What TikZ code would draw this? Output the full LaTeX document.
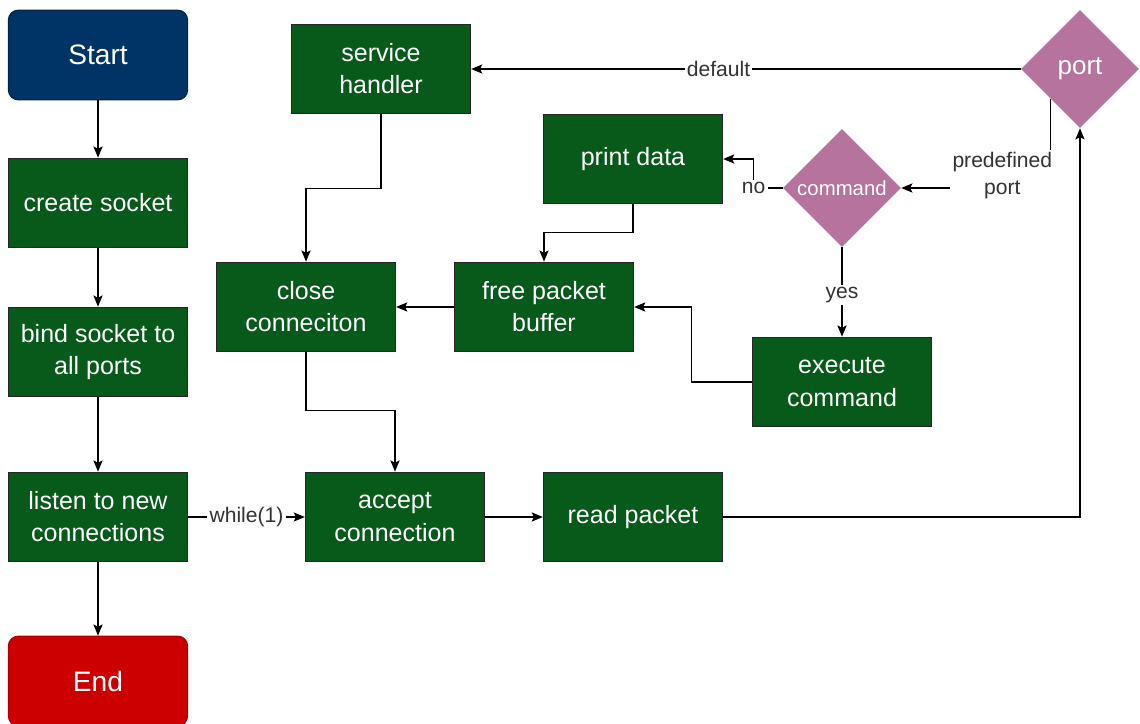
\documentclass[tikz,border=0pt]{standalone}
\usepackage{fontspec}
\setmainfont{Liberation Sans}
\usetikzlibrary{arrows.meta,positioning,shapes.geometric}

\definecolor{stepgreen}{RGB}{7,90,26}
\definecolor{startblue}{RGB}{0,51,102}
\definecolor{endred}{RGB}{204,0,0}
\definecolor{decpink}{RGB}{181,115,157}

\begin{document}
\begin{tikzpicture}[
  x=0.025cm, y=-0.025cm,
  % Plain processing step
  box/.style={rectangle, draw=black!85, line width=0.8pt, fill=stepgreen,
              text=white, minimum width=4.48cm, minimum height=2.24cm,
              align=center, inner sep=2pt,
              font=\fontsize{17.8}{22.8}\selectfont},
  % Start / End terminals
  term/.style={box, rounded corners=7pt, font=\fontsize{20}{24}\selectfont},
  % Decision diamond
  dec/.style={diamond, aspect=1, fill=decpink, text=white, inner sep=0pt,
              minimum size=2.95cm},
  % Edge label with white backing
  lbl/.style={fill=white, inner sep=1.5pt, text=black!80, align=center,
              font=\fontsize{15}{19.2}\selectfont},
  arr/.style={-{Stealth[length=2.8mm, width=2.3mm, inset=0.6mm]}, line width=0.8pt}
]
\useasboundingbox (0,0) rectangle (1140,724);

% ── Main spine (left column) ───────────────────────────────────────────────
\node[term, fill=startblue, draw=startblue!70!black] (start)  at (98,55)  {Start};
\node[box]                                          (create) at (98,203) {create socket};
\node[box]                                          (bind)   at (98,352) {bind socket to\\all ports};
\node[box]                                          (listen) at (98,517) {listen to new\\connections};
\node[term, fill=endred, draw=endred!85!black]      (stop)   at (98,681) {End};

\draw[arr] (start)  -- (create);
\draw[arr] (create) -- (bind);
\draw[arr] (bind)   -- (listen);
\draw[arr] (listen) -- (stop);

% ── Connection loop ───────────────────────────────────────────────────────
\node[box] (accept) at (395,517) {accept\\connection};
\node[box] (read)   at (633,517) {read packet};
\node[dec, font=\fontsize{18.5}{22}\selectfont] (port) at (1080,69) {port};

\draw[arr] (listen) -- node[lbl] {while(1)} (accept);
\draw[arr] (accept) -- (read);
\draw[arr] (read)   -| (port.south);

% ── Port dispatch ─────────────────────────────────────────────────────────
\node[box] (service) at (381,69)  {service\\handler};
\node[dec, font=\fontsize{14.5}{17}\selectfont] (command) at (842,188) {command};
\node[box] (print)   at (633,159) {print data};
\node[box] (exec)    at (842,382) {execute\\command};
\node[box] (freebuf) at (544,307) {free packet\\buffer};
\node[box] (close)   at (306,307) {close\\conneciton};

\draw[arr] (port.west) -- node[lbl, pos=0.55] {default} (service.east);
\draw[arr] (port.south west) |- node[lbl, pos=0.5, xshift=-1.2cm, yshift=0.32cm]
           {predefined\\port} (command.east);
\draw[arr] (command.west) -- ++(-29,0) coordinate (nobend) |- (print.east);
\node[lbl] at (nobend) {no};
\draw[arr] (command.south) -- node[lbl, pos=0.53] {yes} (exec.north);

% ── Cleanup and back to accept ────────────────────────────────────────────
\draw[arr] (exec.west)     -- ++(-60,0) |- (freebuf.east);
\draw[arr] (print.south)   -- ++(0,28)  -| (freebuf.north);
\draw[arr] (freebuf.west)  -- (close.east);
\draw[arr] (service.south) -- ++(0,74)  -| (close.north);
\draw[arr] (close.south)   -- ++(0,58)  -| (accept.north);

\end{tikzpicture}
\end{document}
